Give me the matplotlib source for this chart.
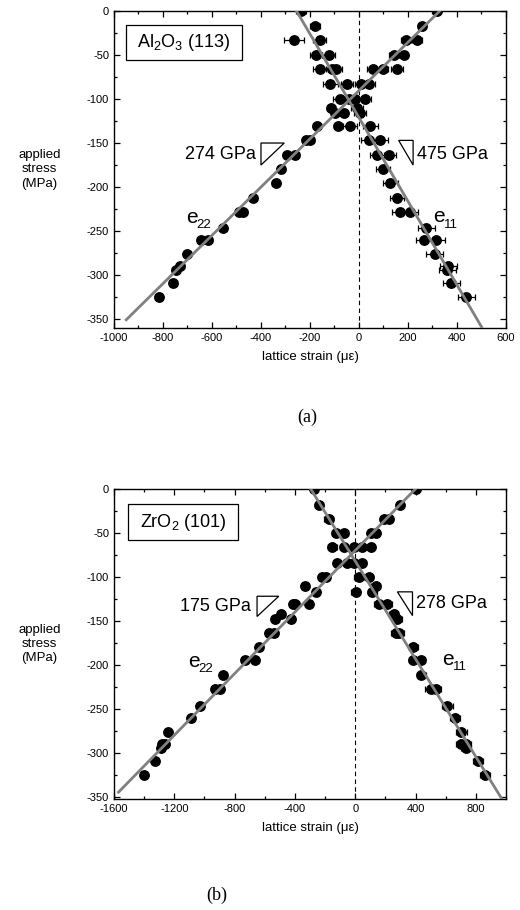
import numpy as np
import matplotlib
matplotlib.use('Agg')
import matplotlib.pyplot as plt
from matplotlib.patches import Rectangle, Polygon
from matplotlib.ticker import MultipleLocator

plt.rcParams['font.family'] = ['Liberation Sans', 'DejaVu Sans']
plt.rcParams['axes.unicode_minus'] = False
plt.rcParams['mathtext.fontset'] = 'custom'
plt.rcParams['mathtext.rm'] = 'Liberation Sans'
plt.rcParams['mathtext.it'] = 'Liberation Sans'

# ---- panel (a): Al2O3 (113) ----
al_e11_stress = [0, -17, -33, -33, -50, -50, -66, -66, -66, -83, -83, -100, -100,
                 -110, -116, -131, -131, -147, -147, -164, -164, -180, -195, -212,
                 -228, -228, -247, -260, -260, -276, -290, -294, -309, -325]
al_e11_strain = [-235, -181, -264, -161, -176, -124, -158, -109, -93, -117, -49, -76, -15,
                 -8, 5, -36, 46, 39, 87, 73, 121, 98, 128, 155,
                 169, 207, 275, 267, 316, 309, 364, 360, 376, 438]
al_e11_err = [20, 20, 40, 25, 25, 25, 30, 25, 25, 30, 25, 30, 25,
              25, 25, 30, 30, 30, 30, 30, 30, 30, 30, 30,
              35, 35, 35, 35, 35, 35, 35, 35, 35, 35]

al_e22_stress = [0, -17, -33, -33, -50, -50, -66, -66, -66, -83, -83, -100, -100,
                 -110, -116, -116, -131, -131, -147, -147, -164, -164, -180, -195,
                 -212, -228, -228, -247, -260, -260, -276, -290, -294, -309, -325]
al_e22_strain = [319, 257, 193, 237, 144, 182, 57, 100, 155, 10, 42, -42, 23,
                 -114, -97, -63, -172, -87, -215, -199, -294, -260, -319, -339,
                 -431, -488, -474, -556, -644, -615, -700, -730, -747, -758, -817]
al_e22_err = [15, 15, 20, 20, 20, 20, 25, 20, 25, 25, 25, 25, 25,
              15, 15, 15, 15, 15, 15, 15, 15, 15, 15, 15,
              15, 15, 15, 15, 15, 15, 15, 15, 15, 15, 15]

# ---- panel (b): ZrO2 (101) ----
zr_e11_stress = [0, -18, -34, -50, -50, -66, -66, -84, -84, -100, -100, -110, -117, -117,
                 -131, -131, -142, -148, -164, -164, -180, -195, -195, -212, -228, -228,
                 -247, -260, -276, -290, -290, -295, -309, -325]
zr_e11_strain = [-274, -241, -175, -130, -75, -152, -75, -9, 47, 25, 91, 136, 3, 114,
                 158, 213, 257, 280, 269, 291, 384, 384, 435, 439, 501, 535,
                 612, 661, 705, 705, 734, 734, 816, 860]
zr_e11_err = [20, 25, 30, 25, 25, 30, 25, 25, 25, 30, 30, 30, 30, 30,
              30, 30, 30, 30, 30, 30, 30, 30, 30, 30, 35, 35,
              35, 35, 35, 35, 35, 35, 35, 35]

zr_e22_stress = [0, -18, -34, -34, -50, -50, -66, -66, -66, -84, -84, -100, -100, -110,
                 -117, -131, -131, -131, -142, -148, -148, -164, -164, -180, -195, -195,
                 -212, -228, -228, -247, -260, -276, -290, -290, -295, -309, -325]
zr_e22_strain = [401, 295, 191, 224, 102, 136, -9, 47, 102, -119, -53, -219, -197, -330,
                 -257, -412, -396, -308, -491, -529, -423, -574, -536, -636, -729, -662,
                 -877, -933, -895, -1028, -1088, -1239, -1283, -1261, -1289, -1327, -1400]
zr_e22_err = [20] * len(zr_e22_strain)

# fitted moduli (GPa) and zero-stress strain offsets
al_E11, al_x11, al_E22, al_x22 = 475, -255, 274, 330
zr_E11, zr_x11, zr_E22, zr_x22 = 278, -295, 175, 400


def panel(ax, s11, e11, err11, s22, e22, err22, E11, x11, E22, x22,
          xlim, ylim, xmaj, xmin, e22_rng, e11_rng):
    # fit lines
    xx = np.array(e22_rng)
    ax.plot(xx, E22 * 1e-3 * (xx - x22), color='#808080', lw=2, zorder=3)
    xx = np.array(e11_rng)
    ax.plot(xx, -E11 * 1e-3 * (xx - x11), color='#808080', lw=2, zorder=3)
    for s, e, er in [(s11, e11, err11), (s22, e22, err22)]:
        ax.errorbar(e, s, xerr=er, fmt='o', color='black', ms=6.8, elinewidth=0.9,
                    capsize=2, capthick=0.9, zorder=2)
    ax.axvline(0, color='black', lw=0.8, ls=(0, (4, 3)), zorder=1)
    ax.set_xlim(*xlim)
    ax.set_ylim(*ylim)
    ax.xaxis.set_major_locator(MultipleLocator(xmaj))
    ax.xaxis.set_minor_locator(MultipleLocator(xmin))
    ax.yaxis.set_major_locator(MultipleLocator(50))
    ax.yaxis.set_minor_locator(MultipleLocator(25))
    ax.tick_params(which='both', direction='in', top=True, right=True,
                   labelsize=8, width=0.9)
    ax.tick_params(which='major', length=4)
    ax.tick_params(which='minor', length=2.5)
    for sp in ax.spines.values():
        sp.set_linewidth(1)
    ax.set_xlabel('lattice strain (\u03bc\u03b5)', fontsize=9.5, labelpad=6)
    ax.set_ylabel('applied\nstress\n(MPa)', fontsize=9.5, rotation=0,
                  ha='center', va='center', labelpad=0, linespacing=1.25)
    ax.yaxis.set_label_coords(-0.19, 0.5)


def e_label(ax, x, y, sub):
    ax.text(x, y, 'e', fontsize=15, ha='left', va='baseline')
    ax.annotate(sub, (x, y), xytext=(7.5, -3.8), textcoords='offset points',
                fontsize=9.5, ha='left', va='baseline')


fig = plt.figure(figsize=(5.2, 9.1), dpi=100)

ax1 = fig.add_axes([0.2192, 0.6396, 0.7538, 0.3484])
panel(ax1, al_e11_stress, al_e11_strain, al_e11_err,
      al_e22_stress, al_e22_strain, al_e22_err,
      al_E11, al_x11, al_E22, al_x22,
      (-1000, 600), (-360, 0), 200, 100, (-950, 330), (-260, 500))
ax1.add_patch(Rectangle((0.031, 0.845), 0.296, 0.111, transform=ax1.transAxes,
                        fill=False, lw=0.9, ec='black'))
ax1.text(0.179, 0.9, 'Al$_2$O$_3$ (113)', transform=ax1.transAxes, fontsize=13,
         ha='center', va='center')
ax1.add_patch(Polygon([(-400, -150), (-305, -150), (-400, -175)], closed=True,
                      fill=False, lw=0.9, ec='black'))
ax1.add_patch(Polygon([(162, -147), (221, -147), (221, -175)], closed=True,
                      fill=False, lw=0.9, ec='black'))
ax1.text(-420, -163, '274 GPa', fontsize=13, ha='right', va='center')
ax1.text(235, -163, '475 GPa', fontsize=13, ha='left', va='center')
e_label(ax1, -705, -241, '22')
e_label(ax1, 303, -240, '11')

ax2 = fig.add_axes([0.2192, 0.1220, 0.7538, 0.3407])
panel(ax2, zr_e11_stress, zr_e11_strain, zr_e11_err,
      zr_e22_stress, zr_e22_strain, zr_e22_err,
      zr_E11, zr_x11, zr_E22, zr_x22,
      (-1600, 1000), (-352.5, 0), 400, 200, (-1570, 400), (-295, 975))
ax2.add_patch(Rectangle((0.035, 0.835), 0.282, 0.116, transform=ax2.transAxes,
                        fill=False, lw=0.9, ec='black'))
ax2.text(0.176, 0.893, 'ZrO$_2$ (101)', transform=ax2.transAxes, fontsize=13,
         ha='center', va='center')
ax2.add_patch(Polygon([(-651, -122), (-507, -122), (-651, -145)], closed=True,
                      fill=False, lw=0.9, ec='black'))
ax2.add_patch(Polygon([(280, -117), (380, -117), (380, -144)], closed=True,
                      fill=False, lw=0.9, ec='black'))
ax2.text(-690, -134, '175 GPa', fontsize=13, ha='right', va='center')
ax2.text(400, -130, '278 GPa', fontsize=13, ha='left', va='center')
e_label(ax2, -1108, -202, '22')
e_label(ax2, 577, -200, '11')

fig.text(307 / 520, 1 - 417 / 910, '(a)', family='Liberation Serif', fontsize=13,
         ha='center', va='center')
fig.text(217 / 520, 1 - 895 / 910, '(b)', family='Liberation Serif', fontsize=13,
         ha='center', va='center')

fig.savefig('out.png', dpi=100)
